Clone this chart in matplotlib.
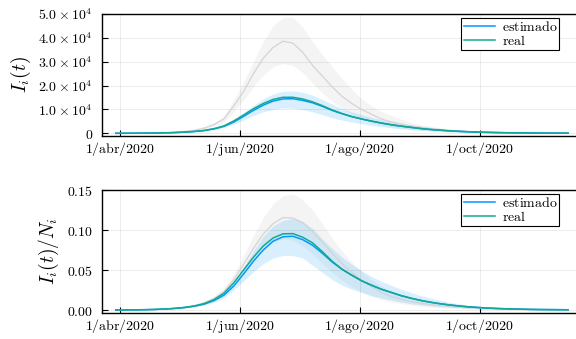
import datetime as dt

import matplotlib
matplotlib.use('Agg')
import matplotlib.pyplot as plt
import numpy as np

# sample every 5 days, starting 30/mar/2020
start = dt.date(2020, 4, 1)
days = np.arange(-2, 229, 5)
dates = [start + dt.timedelta(days=int(d)) for d in days]

# --- top panel: I_i(t), units of 1e4 ---
top_est = [0, 0.002, 0.003, 0.006, 0.011, 0.019, 0.031, 0.049, 0.075, 0.116, 0.185, 0.29,
           0.47, 0.71, 0.96, 1.18, 1.35, 1.44, 1.45, 1.38, 1.28, 1.13, 0.96, 0.82, 0.70,
           0.60, 0.51, 0.43, 0.36, 0.30, 0.25, 0.20, 0.16, 0.13, 0.10, 0.08, 0.062, 0.048,
           0.037, 0.029, 0.022, 0.017, 0.013, 0.010, 0.008, 0.006, 0.005]
top_real = [0, 0.002, 0.003, 0.006, 0.011, 0.019, 0.031, 0.050, 0.078, 0.120, 0.195, 0.31,
            0.52, 0.77, 1.03, 1.25, 1.42, 1.51, 1.51, 1.44, 1.32, 1.16, 0.98, 0.83, 0.70,
            0.60, 0.51, 0.43, 0.36, 0.30, 0.25, 0.20, 0.16, 0.13, 0.10, 0.08, 0.062, 0.048,
            0.037, 0.029, 0.022, 0.017, 0.013, 0.010, 0.008, 0.006, 0.005]
top_est_hi = [0, 0.002, 0.004, 0.007, 0.013, 0.022, 0.036, 0.057, 0.087, 0.135, 0.215, 0.33,
              0.55, 0.85, 1.17, 1.45, 1.65, 1.76, 1.78, 1.72, 1.60, 1.42, 1.22, 1.04, 0.90,
              0.78, 0.67, 0.57, 0.49, 0.41, 0.35, 0.29, 0.24, 0.19, 0.15, 0.12, 0.095, 0.075,
              0.058, 0.045, 0.035, 0.027, 0.021, 0.016, 0.013, 0.010, 0.008]
top_est_lo = [0, 0.001, 0.003, 0.005, 0.009, 0.016, 0.026, 0.041, 0.062, 0.095, 0.15, 0.24,
              0.38, 0.56, 0.75, 0.90, 1.00, 1.06, 1.05, 0.99, 0.90, 0.78, 0.65, 0.55, 0.47,
              0.40, 0.33, 0.28, 0.23, 0.19, 0.15, 0.12, 0.10, 0.08, 0.06, 0.048, 0.037, 0.029,
              0.022, 0.017, 0.013, 0.010, 0.008, 0.006, 0.005, 0.004, 0.003]
top_alt = [0, 0.002, 0.005, 0.01, 0.015, 0.025, 0.045, 0.08, 0.13, 0.22, 0.37, 0.60,
           1.15, 1.75, 2.50, 3.15, 3.60, 3.86, 3.78, 3.40, 2.85, 2.40, 1.95, 1.55, 1.25,
           1.00, 0.80, 0.60, 0.48, 0.39, 0.31, 0.25, 0.20, 0.16, 0.12, 0.095, 0.075, 0.058,
           0.045, 0.035, 0.027, 0.020, 0.016, 0.012, 0.009, 0.007, 0.005]
top_alt_hi = [0, 0.003, 0.006, 0.012, 0.02, 0.033, 0.055, 0.10, 0.16, 0.27, 0.45, 0.73,
              1.40, 2.15, 3.00, 3.85, 4.50, 4.85, 4.87, 4.45, 3.85, 3.30, 2.80, 2.30, 1.85,
              1.45, 1.15, 0.92, 0.75, 0.60, 0.45, 0.36, 0.29, 0.23, 0.18, 0.14, 0.11, 0.085,
              0.065, 0.05, 0.04, 0.03, 0.022, 0.017, 0.013, 0.010, 0.008]
top_alt_lo = [0, 0.001, 0.004, 0.008, 0.012, 0.02, 0.036, 0.064, 0.10, 0.17, 0.29, 0.47,
              0.90, 1.40, 1.95, 2.45, 2.80, 2.92, 2.85, 2.55, 2.10, 1.70, 1.35, 1.05, 0.80,
              0.60, 0.46, 0.35, 0.27, 0.21, 0.17, 0.13, 0.10, 0.08, 0.06, 0.047, 0.037, 0.029,
              0.022, 0.017, 0.013, 0.010, 0.008, 0.006, 0.005, 0.004, 0.003]

# --- bottom panel: I_i(t)/N_i ---
bot_est = [0, 0.0001, 0.0002, 0.0004, 0.0007, 0.0012, 0.002, 0.0031, 0.0048, 0.0074, 0.0118,
           0.0185, 0.030, 0.045, 0.061, 0.075, 0.086, 0.0915, 0.0922, 0.088, 0.081, 0.071,
           0.060, 0.051, 0.0435, 0.0365, 0.031, 0.026, 0.022, 0.018, 0.0148, 0.012, 0.0097,
           0.0078, 0.0062, 0.0049, 0.0038, 0.003, 0.0023, 0.0018, 0.0014, 0.0011, 0.0008,
           0.0006, 0.0005, 0.0004, 0.0003]
bot_real = [0, 0.0001, 0.0002, 0.0004, 0.0007, 0.0012, 0.002, 0.0032, 0.005, 0.008, 0.013,
            0.021, 0.034, 0.050, 0.066, 0.080, 0.090, 0.0952, 0.0955, 0.091, 0.084, 0.073,
            0.061, 0.051, 0.0435, 0.0365, 0.031, 0.026, 0.022, 0.018, 0.0148, 0.012, 0.0097,
            0.0078, 0.0062, 0.0049, 0.0038, 0.003, 0.0023, 0.0018, 0.0014, 0.0011, 0.0008,
            0.0006, 0.0005, 0.0004, 0.0003]
bot_est_hi = [0, 0.0001, 0.0002, 0.0004, 0.0008, 0.0013, 0.0022, 0.0035, 0.0055, 0.0086,
              0.0135, 0.021, 0.035, 0.054, 0.074, 0.092, 0.105, 0.112, 0.1145, 0.111, 0.102,
              0.089, 0.077, 0.066, 0.057, 0.049, 0.042, 0.036, 0.031, 0.026, 0.022, 0.018,
              0.015, 0.012, 0.0095, 0.0075, 0.006, 0.0047, 0.0037, 0.0029, 0.0023, 0.0018,
              0.0014, 0.0011, 0.0009, 0.0007, 0.0005]
bot_est_lo = [0, 0.0001, 0.0001, 0.0003, 0.0005, 0.0009, 0.0015, 0.0024, 0.0038, 0.006,
              0.0095, 0.015, 0.025, 0.036, 0.048, 0.058, 0.065, 0.068, 0.068, 0.065, 0.056,
              0.047, 0.038, 0.031, 0.026, 0.022, 0.018, 0.015, 0.0125, 0.010, 0.008, 0.0065,
              0.0053, 0.0043, 0.0035, 0.0028, 0.0022, 0.0017, 0.0013, 0.001, 0.0008, 0.0006,
              0.0005, 0.0004, 0.0003, 0.0002, 0.0002]
bot_alt = [0, 0.0001, 0.0002, 0.0004, 0.0007, 0.0012, 0.002, 0.0034, 0.0056, 0.009, 0.0145,
           0.023, 0.038, 0.057, 0.077, 0.095, 0.108, 0.1155, 0.115, 0.109, 0.098, 0.085,
           0.071, 0.058, 0.047, 0.037, 0.029, 0.022, 0.017, 0.0135, 0.0108, 0.0086, 0.0068,
           0.0054, 0.0042, 0.0033, 0.0026, 0.002, 0.0016, 0.0012, 0.0009, 0.0007, 0.0005,
           0.0004, 0.0003, 0.0002, 0.0002]
bot_alt_hi = [0, 0.0001, 0.0003, 0.0005, 0.0009, 0.0015, 0.0025, 0.0042, 0.0065, 0.0105,
              0.017, 0.027, 0.045, 0.068, 0.093, 0.116, 0.133, 0.143, 0.145, 0.138, 0.125,
              0.108, 0.090, 0.074, 0.060, 0.048, 0.038, 0.030, 0.024, 0.019, 0.015, 0.012,
              0.0095, 0.0075, 0.006, 0.0047, 0.0037, 0.0029, 0.0023, 0.0018, 0.0014, 0.0011,
              0.0008, 0.0006, 0.0005, 0.0004, 0.0003]
bot_alt_lo = [0, 0.0001, 0.0001, 0.0003, 0.0005, 0.0009, 0.0015, 0.0025, 0.0045, 0.0075,
              0.012, 0.019, 0.031, 0.046, 0.062, 0.076, 0.085, 0.089, 0.087, 0.080, 0.070,
              0.058, 0.047, 0.037, 0.029, 0.022, 0.017, 0.013, 0.010, 0.008, 0.0062, 0.0048,
              0.0037, 0.0029, 0.0022, 0.0017, 0.0013, 0.001, 0.0008, 0.0006, 0.0005, 0.0004,
              0.0003, 0.0002, 0.0002, 0.0001, 0.0001]

tick_dates = [dt.date(2020, 4, 1), dt.date(2020, 6, 1), dt.date(2020, 8, 1), dt.date(2020, 10, 1)]
tick_names = ['1/abr/2020', '1/jun/2020', '1/ago/2020', '1/oct/2020']
top_yticks = [0, 1e4, 2e4, 3e4, 4e4, 5e4]
top_ylabels = ['0', r'1.0\times10^{4}', r'2.0\times10^{4}', r'3.0\times10^{4}',
               r'4.0\times10^{4}', r'5.0\times10^{4}']
bot_yticks = [0, 0.05, 0.10, 0.15]
bot_ylabels = ['0.00', '0.05', '0.10', '0.15']

BLUE = '#009afa'
GREEN = '#13a894'
GREY = '#d4d4d4'

plt.rcParams['mathtext.fontset'] = 'cm'
plt.rcParams['font.family'] = 'serif'

fig = plt.figure(figsize=(5.76, 3.39), dpi=100)
ax1 = fig.add_axes([102 / 576, 1 - 136 / 339, 474 / 576, 122 / 339])
ax2 = fig.add_axes([102 / 576, 1 - 313 / 339, 474 / 576, 123 / 339])

x0 = start + dt.timedelta(days=-8.8)
x1 = start + dt.timedelta(days=232.2)

panels = [
    (ax1, 1e4, top_est, top_real, top_est_lo, top_est_hi, top_alt, top_alt_lo, top_alt_hi,
     (-1130, 5e4), top_yticks, top_ylabels, r'$I_i(t)$'),
    (ax2, 1.0, bot_est, bot_real, bot_est_lo, bot_est_hi, bot_alt, bot_alt_lo, bot_alt_hi,
     (-0.00375, 0.15), bot_yticks, bot_ylabels, r'$I_i(t)/N_i$'),
]

for (ax, sc, est, real, lo, hi, alt, alt_lo, alt_hi, ylim, yt, ylab, label) in panels:
    s = lambda v: np.asarray(v) * sc
    ax.fill_between(dates, s(alt_lo), s(alt_hi), color='#999999', alpha=0.1, linewidth=0)
    ax.plot(dates, s(alt), color=GREY, lw=0.9)
    ax.fill_between(dates, s(lo), s(hi), color=BLUE, alpha=0.15, linewidth=0)
    ax.plot(dates, s(est), color=BLUE, lw=1.1, label=r'$\mathrm{estimado}$')
    ax.plot(dates, s(real), color=GREEN, lw=1.1, label=r'$\mathrm{real}$')

    ax.set_xlim(x0, x1)
    ax.set_ylim(*ylim)
    ax.set_xticks(tick_dates)
    ax.set_xticklabels([r'$\mathrm{%s}$' % t for t in tick_names])
    ax.set_yticks(yt)
    ax.set_yticklabels([r'$%s$' % t for t in ylab])
    ax.tick_params(direction='in', length=4, width=0.8, labelsize=10)
    ax.tick_params(axis='y', pad=6.5)
    ax.tick_params(axis='x', pad=3)
    ax.grid(True, color='black', alpha=0.1, lw=0.5)
    for side in ('top', 'left', 'bottom'):
        ax.spines[side].set_linewidth(1.0)
    ax.spines['right'].set_visible(False)
    ax.set_ylabel(label, fontsize=14, labelpad=4)
    leg = ax.legend(loc='upper right', bbox_to_anchor=(0.965, 0.967), fontsize=10,
                    fancybox=False, framealpha=1, edgecolor='black', handlelength=2.3,
                    labelspacing=0.0, borderpad=0.15, handletextpad=0.45,
                    borderaxespad=0)
    leg.get_frame().set_linewidth(0.8)

fig.savefig('out.png', dpi=100)
